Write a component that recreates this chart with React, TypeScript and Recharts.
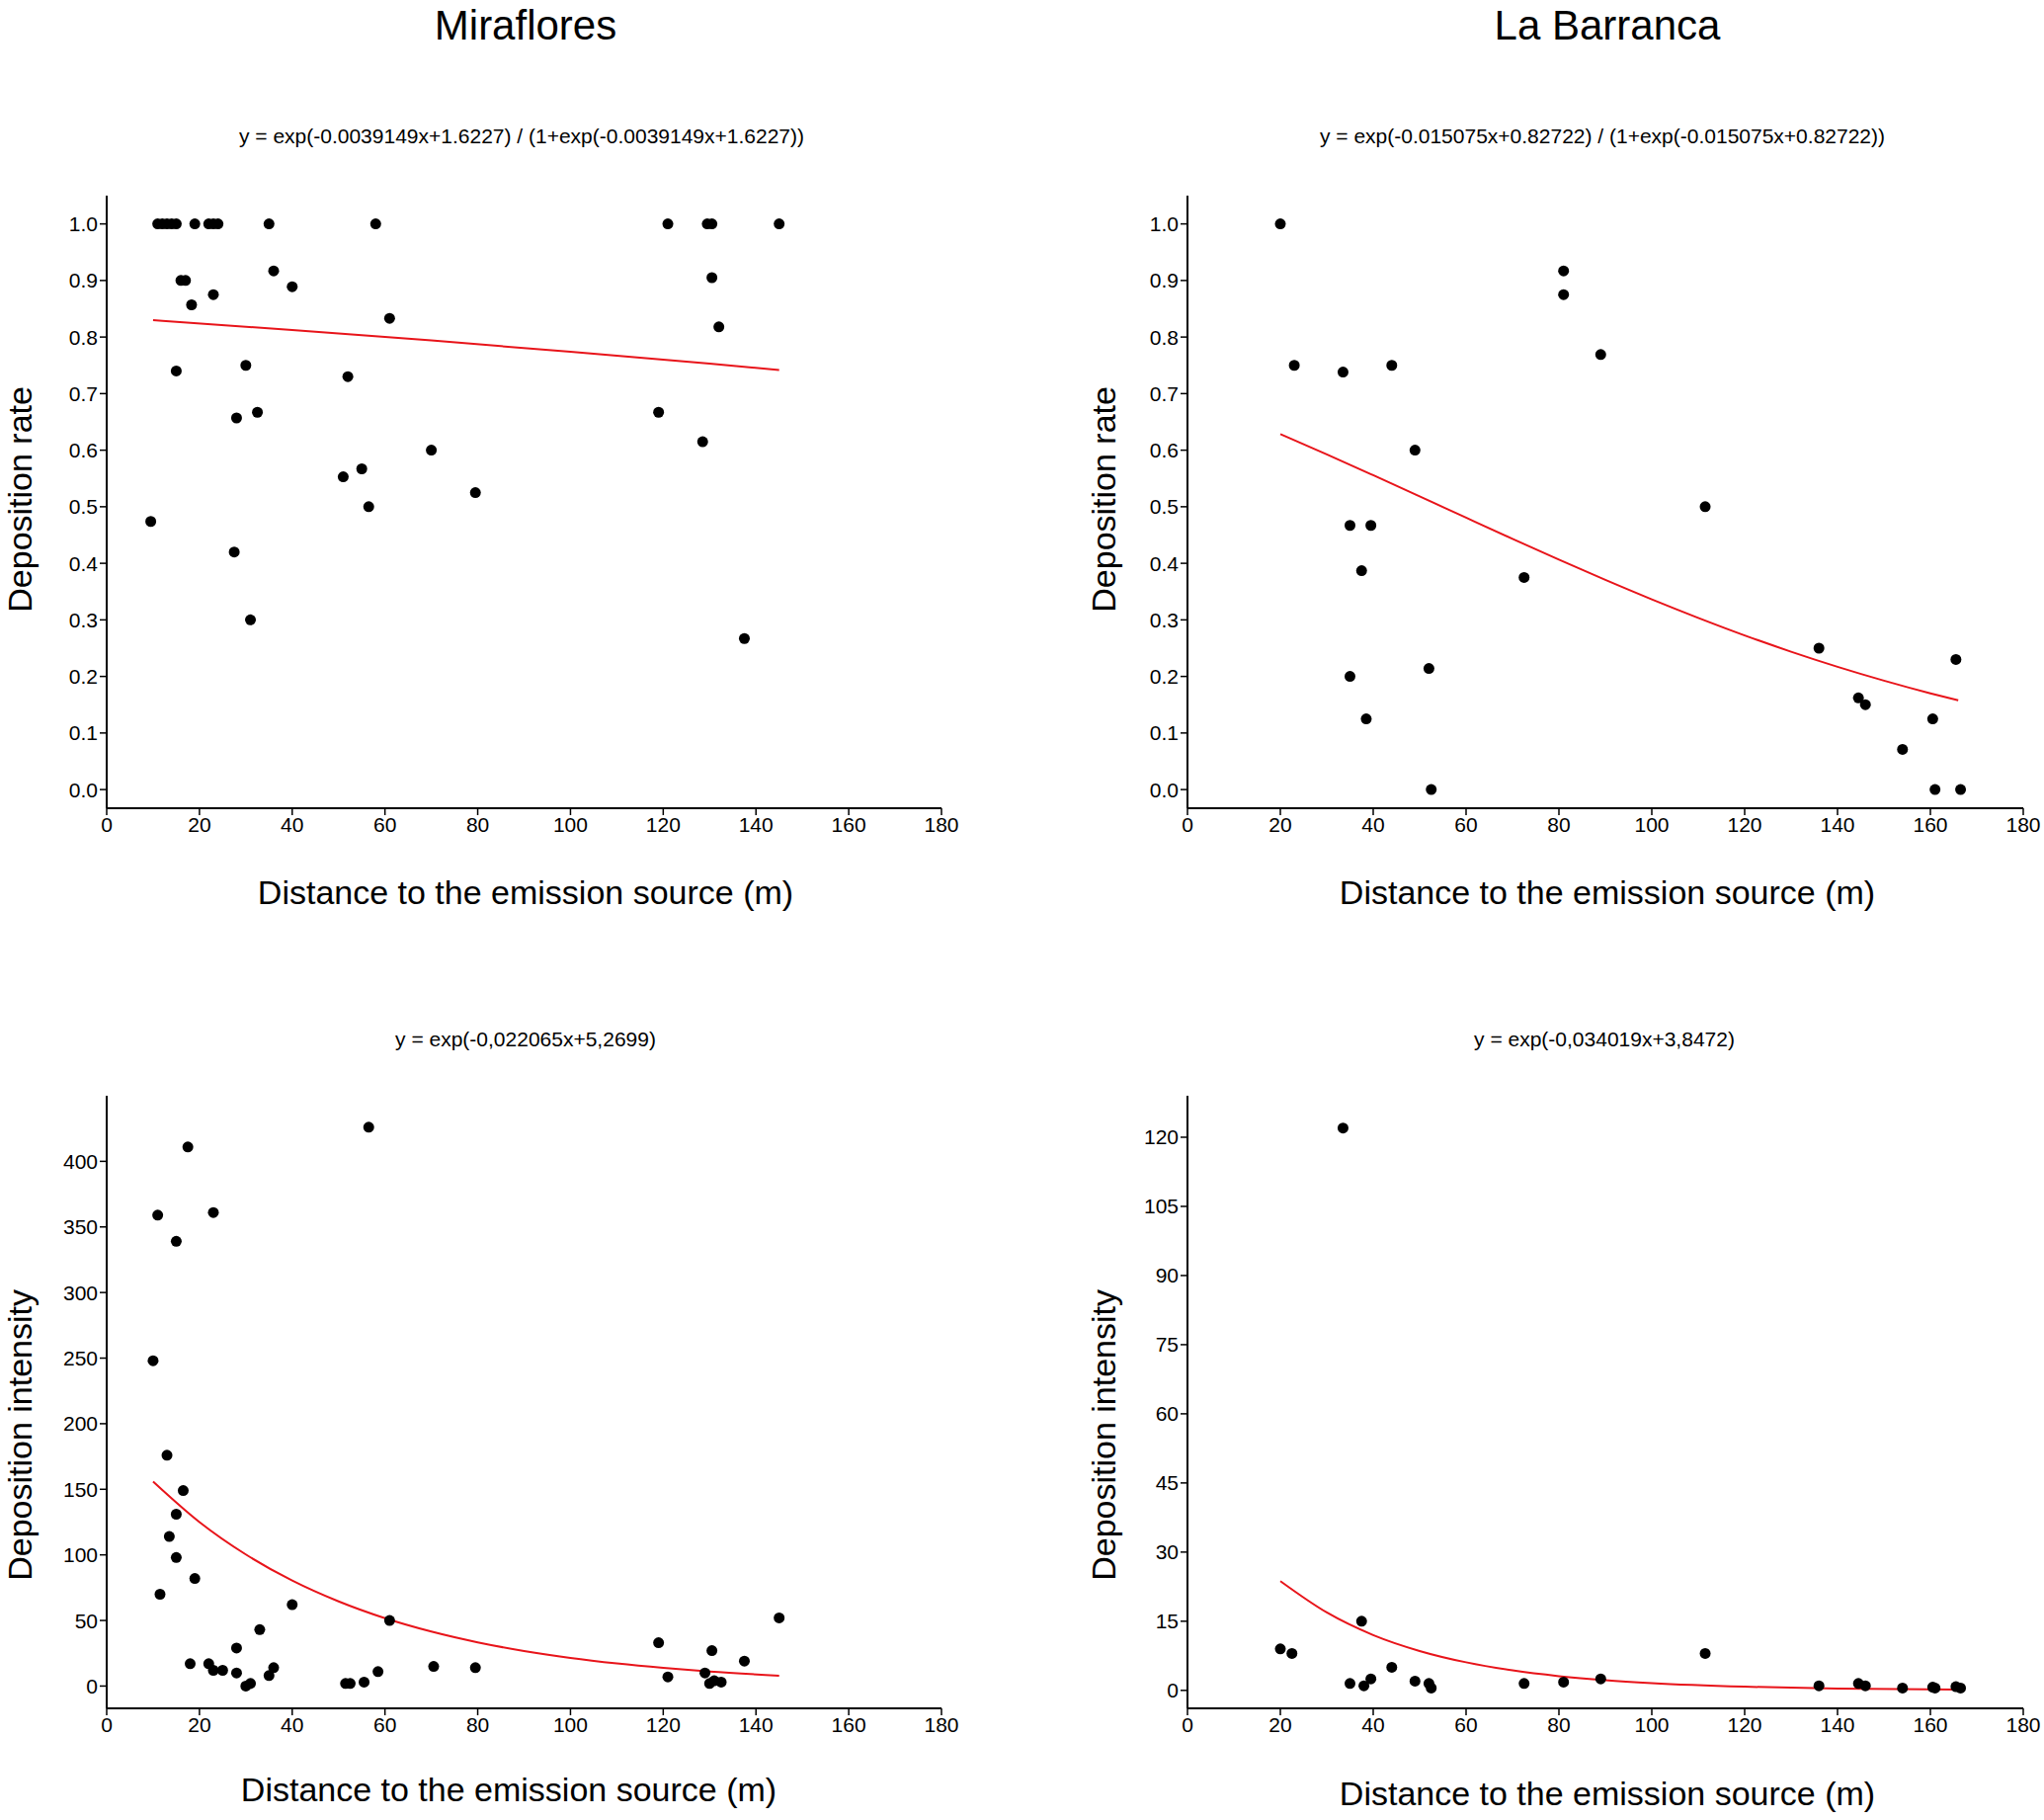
import React from "react";
import { ComposedChart, Scatter, Line, XAxis, YAxis } from "recharts";

const FONT = "'Liberation Sans Narrow', 'Liberation Sans', Arial, sans-serif";
const LABEL_FONT = "'Liberation Sans', Arial, sans-serif";

// Miraflores - deposition rate
const miraRate = [
  { x: 11, y: 1 }, { x: 12, y: 1 }, { x: 13, y: 1 }, { x: 14, y: 1 }, { x: 15, y: 1 },
  { x: 19, y: 1 }, { x: 22, y: 1 }, { x: 23, y: 1 }, { x: 24, y: 1 }, { x: 35, y: 1 },
  { x: 58, y: 1 }, { x: 121, y: 1 }, { x: 129.5, y: 1 }, { x: 130.5, y: 1 }, { x: 145, y: 1 },
  { x: 16, y: 0.9 }, { x: 17, y: 0.9 }, { x: 18.3, y: 0.857 }, { x: 23, y: 0.875 },
  { x: 36, y: 0.917 }, { x: 40, y: 0.889 }, { x: 61, y: 0.833 }, { x: 130.5, y: 0.905 },
  { x: 132, y: 0.818 }, { x: 15, y: 0.74 }, { x: 30, y: 0.75 }, { x: 52, y: 0.73 },
  { x: 28, y: 0.657 }, { x: 32.5, y: 0.667 }, { x: 119, y: 0.667 }, { x: 128.5, y: 0.615 },
  { x: 70, y: 0.6 }, { x: 51, y: 0.553 }, { x: 55, y: 0.567 }, { x: 56.5, y: 0.5 },
  { x: 79.5, y: 0.525 }, { x: 9.5, y: 0.474 }, { x: 27.5, y: 0.42 }, { x: 31, y: 0.3 },
  { x: 137.5, y: 0.267 },
];
const miraRateFit = [
  { x: 10, y: 0.8297 }, { x: 40, y: 0.8125 }, { x: 70, y: 0.7939 },
  { x: 100, y: 0.774 }, { x: 130, y: 0.7529 }, { x: 145, y: 0.7417 },
];

// La Barranca - deposition rate
const barrRate = [
  { x: 20, y: 1 }, { x: 23, y: 0.75 }, { x: 33.5, y: 0.738 }, { x: 44, y: 0.75 },
  { x: 49, y: 0.6 }, { x: 81, y: 0.917 }, { x: 81, y: 0.875 }, { x: 89, y: 0.769 },
  { x: 35, y: 0.467 }, { x: 39.5, y: 0.467 }, { x: 37.5, y: 0.387 }, { x: 72.5, y: 0.375 },
  { x: 111.5, y: 0.5 }, { x: 35, y: 0.2 }, { x: 38.5, y: 0.125 }, { x: 52, y: 0.214 },
  { x: 52.5, y: 0 }, { x: 136, y: 0.25 }, { x: 144.5, y: 0.162 }, { x: 146, y: 0.15 },
  { x: 154, y: 0.071 }, { x: 160.5, y: 0.125 }, { x: 161, y: 0 }, { x: 165.5, y: 0.23 },
  { x: 166.5, y: 0 },
];
const barrRateFit = [
  { x: 20, y: 0.6285 }, { x: 30, y: 0.5927 }, { x: 40, y: 0.5558 }, { x: 50, y: 0.5184 },
  { x: 60, y: 0.4807 }, { x: 70, y: 0.4432 }, { x: 80, y: 0.4064 }, { x: 90, y: 0.3706 },
  { x: 100, y: 0.3362 }, { x: 110, y: 0.3035 }, { x: 120, y: 0.2725 }, { x: 130, y: 0.2437 },
  { x: 140, y: 0.217 }, { x: 150, y: 0.1925 }, { x: 160, y: 0.1701 }, { x: 166, y: 0.1577 },
];

// Miraflores - deposition intensity
const miraInt = [
  { x: 10, y: 248 }, { x: 11, y: 359 }, { x: 17.5, y: 411 }, { x: 15, y: 339 }, { x: 23, y: 361 },
  { x: 56.5, y: 426 }, { x: 13, y: 176 }, { x: 16.5, y: 149 }, { x: 15, y: 131 }, { x: 13.5, y: 114 },
  { x: 15, y: 98 }, { x: 19, y: 82 }, { x: 11.5, y: 70 }, { x: 18, y: 17 }, { x: 22, y: 17 },
  { x: 23, y: 12 }, { x: 25, y: 12 }, { x: 28, y: 29 }, { x: 28, y: 10 }, { x: 30, y: 0 },
  { x: 31, y: 2 }, { x: 33, y: 43 }, { x: 35, y: 8 }, { x: 36, y: 14 }, { x: 40, y: 62 },
  { x: 51.5, y: 2 }, { x: 52.5, y: 2 }, { x: 55.5, y: 3 }, { x: 58.5, y: 11 }, { x: 61, y: 50 },
  { x: 70.5, y: 15 }, { x: 79.5, y: 14 }, { x: 119, y: 33 }, { x: 121, y: 7 }, { x: 129, y: 10 },
  { x: 130.5, y: 27 }, { x: 130, y: 2 }, { x: 131, y: 4 }, { x: 132.5, y: 3 }, { x: 137.5, y: 19 },
  { x: 145, y: 52 },
];
const miraIntFit = [
  { x: 10, y: 155.9 }, { x: 20, y: 125 }, { x: 30, y: 100.3 }, { x: 40, y: 80.4 },
  { x: 50, y: 64.5 }, { x: 60, y: 51.7 }, { x: 70, y: 41.5 }, { x: 80, y: 33.3 },
  { x: 90, y: 26.7 }, { x: 100, y: 21.4 }, { x: 110, y: 17.2 }, { x: 120, y: 13.8 },
  { x: 130, y: 11 }, { x: 145, y: 7.93 },
];

// La Barranca - deposition intensity
const barrInt = [
  { x: 20, y: 9 }, { x: 22.5, y: 8 }, { x: 33.5, y: 122 }, { x: 35, y: 1.5 }, { x: 37.5, y: 15 },
  { x: 38, y: 1 }, { x: 39.5, y: 2.5 }, { x: 44, y: 5 }, { x: 49, y: 2 }, { x: 52, y: 1.5 },
  { x: 52.5, y: 0.5 }, { x: 72.5, y: 1.5 }, { x: 81, y: 1.8 }, { x: 89, y: 2.5 }, { x: 111.5, y: 8 },
  { x: 136, y: 1 }, { x: 144.5, y: 1.5 }, { x: 146, y: 1 }, { x: 154, y: 0.5 }, { x: 160.5, y: 0.7 },
  { x: 161, y: 0.5 }, { x: 165.5, y: 0.8 }, { x: 166.5, y: 0.5 },
];
const barrIntFit = [
  { x: 20, y: 23.7 }, { x: 30, y: 16.9 }, { x: 40, y: 12 }, { x: 50, y: 8.55 },
  { x: 60, y: 6.09 }, { x: 70, y: 4.33 }, { x: 80, y: 3.08 }, { x: 90, y: 2.19 },
  { x: 100, y: 1.56 }, { x: 120, y: 0.79 }, { x: 140, y: 0.4 }, { x: 166, y: 0.18 },
];

const xTicks = [0, 20, 40, 60, 80, 100, 120, 140, 160, 180];
const rateTicks = [0, 0.1, 0.2, 0.3, 0.4, 0.5, 0.6, 0.7, 0.8, 0.9, 1.0];
const miraIntTicks = [0, 50, 100, 150, 200, 250, 300, 350, 400];
const barrIntTicks = [0, 15, 30, 45, 60, 75, 90, 105, 120];

const tickStyle = { fontSize: 21, fill: "#000", fontFamily: FONT };

function Panel({ left, top, width, marginLeft, marginRight, points, fit, yDomain, yTicks, yFormat }: any) {
  return (
    <div style={{ position: "absolute", left, top }}>
      <ComposedChart
        width={width}
        height={740}
        margin={{ top: 48, right: marginRight, bottom: 12, left: marginLeft }}
      >
        <XAxis
          type="number"
          dataKey="x"
          domain={[0, 180]}
          ticks={xTicks}
          interval={0}
          allowDataOverflow
          height={60}
          tick={tickStyle}
          axisLine={{ stroke: "#000", strokeWidth: 2 }}
          tickLine={{ stroke: "#000", strokeWidth: 1.5 }}
          tickSize={7}
        />
        <YAxis
          type="number"
          dataKey="y"
          domain={yDomain}
          ticks={yTicks}
          interval={0}
          allowDataOverflow
          width={60}
          tick={tickStyle}
          tickFormatter={yFormat}
          axisLine={{ stroke: "#000", strokeWidth: 2 }}
          tickLine={{ stroke: "#000", strokeWidth: 1.5 }}
          tickSize={7}
        />
        <Line
          data={fit}
          dataKey="y"
          type="monotone"
          stroke="#e8141a"
          strokeWidth={2}
          dot={false}
          activeDot={false}
          isAnimationActive={false}
        />
        <Scatter data={points} fill="#000" shape={(p: any) => <circle cx={p.cx} cy={p.cy} r={5.5} fill="#000" />} isAnimationActive={false} />
      </ComposedChart>
    </div>
  );
}

const txt = (s: string, cx: number, cy: number, size: number, weight = 400): React.ReactNode => (
  <div
    style={{
      position: "absolute",
      left: cx - 600,
      top: cy - size * 0.6,
      width: 1200,
      textAlign: "center",
      fontSize: size,
      fontWeight: weight,
      fontFamily: LABEL_FONT,
      lineHeight: `${size * 1.2}px`,
      whiteSpace: "nowrap",
    }}
  >
    {s}
  </div>
);

const vtxt = (s: string, cx: number, cy: number, size: number): React.ReactNode => (
  <div
    style={{
      position: "absolute",
      left: cx - 400,
      top: cy - size * 0.6,
      width: 800,
      textAlign: "center",
      fontSize: size,
      fontFamily: LABEL_FONT,
      lineHeight: `${size * 1.2}px`,
      transform: "rotate(-90deg)",
      whiteSpace: "nowrap",
    }}
  >
    {s}
  </div>
);

export default function App() {
  const rateFmt = (v: number) => v.toFixed(1);
  return (
    <div style={{ position: "absolute", left: 0, top: 0, width: 2069, height: 1842, background: "#fff", overflow: "hidden" }}>
      {txt("Miraflores", 532, 26, 42)}
      {txt("La Barranca", 1627, 26, 42)}
      {txt("y = exp(-0.0039149x+1.6227) / (1+exp(-0.0039149x+1.6227))", 528, 138, 21)}
      {txt("y = exp(-0.015075x+0.82722) / (1+exp(-0.015075x+0.82722))", 1622, 138, 21)}
      {txt("y = exp(-0,022065x+5,2699)", 532, 1052, 21)}
      {txt("y = exp(-0,034019x+3,8472)", 1624, 1052, 21)}
      {txt("Distance to the emission source (m)", 532, 903, 34)}
      {txt("Distance to the emission source (m)", 1627, 903, 34)}
      {txt("Distance to the emission source (m)", 515, 1811, 34)}
      {txt("Distance to the emission source (m)", 1627, 1815, 34)}
      {vtxt("Deposition rate", 20, 505, 34)}
      {vtxt("Deposition rate", 1117, 505, 34)}
      {vtxt("Deposition intensity", 20, 1452, 34)}
      {vtxt("Deposition intensity", 1117, 1452, 34)}

      <Panel left={0} top={150} width={1000} marginLeft={48} marginRight={47}
        points={miraRate} fit={miraRateFit} yDomain={[-0.033, 1.05]} yTicks={rateTicks} yFormat={rateFmt} />
      <Panel left={1050} top={150} width={1019} marginLeft={92} marginRight={21}
        points={barrRate} fit={barrRateFit} yDomain={[-0.033, 1.05]} yTicks={rateTicks} yFormat={rateFmt} />
      <Panel left={0} top={1061} width={1000} marginLeft={48} marginRight={47}
        points={miraInt} fit={miraIntFit} yDomain={[-17, 450]} yTicks={miraIntTicks} />
      <Panel left={1050} top={1061} width={1019} marginLeft={92} marginRight={21}
        points={barrInt} fit={barrIntFit} yDomain={[-3.9, 129]} yTicks={barrIntTicks} />
    </div>
  );
}
